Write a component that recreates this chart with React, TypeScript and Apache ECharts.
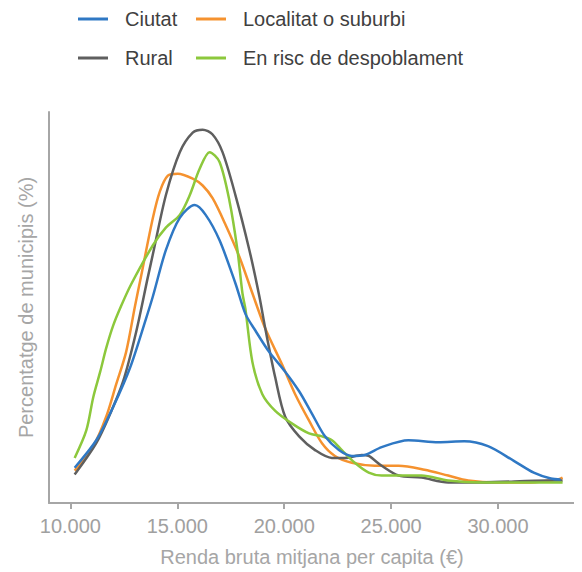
import React, { useEffect, useRef } from "react";
import * as echarts from "echarts";

const seriesNames = ["Ciutat", "Localitat o suburbi", "Rural", "En risc de despoblament"];
const colors = ["#2f78c4", "#f5922f", "#5f5f5f", "#8cc83c"];
const xTicks = [10000, 15000, 20000, 25000, 30000];

const ciutat: [number, number][] = [
  [10200, 0.8], [11210, 2.2], [12000, 3.9], [12790, 5.9], [13535, 8.4], [13860, 9.55],
  [14465, 11.9], [15116, 13.55], [15814, 14.2], [16326, 13.7], [16977, 12.4], [17721, 10.2],
  [18186, 8.65], [18651, 7.8], [19302, 6.7], [20046, 5.7], [20698, 4.7], [21302, 3.55],
  [21907, 2.4], [22558, 1.7], [23163, 1.4], [23767, 1.45], [24558, 1.85], [25810, 2.2],
  [27210, 2.1], [28420, 2.15], [29530, 1.9], [30740, 1.15], [31670, 0.55], [32470, 0.25],
  [32930, 0.2],
];
const localitat: [number, number][] = [
  [10200, 0.65], [11070, 1.9], [11674, 3.4], [12140, 5.05], [12605, 6.7], [13023, 9.05],
  [13302, 10.55], [13860, 13.55], [14186, 14.9], [14558, 15.7], [15023, 15.8], [15721, 15.55],
  [16186, 15.2], [16651, 14.55], [17256, 13.2], [17907, 11.55], [18512, 9.7], [19116, 7.9],
  [19907, 6.05], [20512, 4.55], [21163, 3.2], [21767, 2.05], [22372, 1.4], [23163, 1.05],
  [24232, 0.9], [25350, 0.9], [26560, 0.7], [27670, 0.4], [28600, 0.15], [30000, 0.05],
  [31530, 0.05], [32790, 0.2], [33020, 0.3],
];
const rural: [number, number][] = [
  [10200, 0.45], [11210, 2.05], [11860, 3.55], [12465, 5.2], [13070, 7.7], [13628, 10.55],
  [13860, 11.7], [14465, 14.7], [15116, 16.9], [15721, 17.9], [16186, 18.05], [16651, 17.8],
  [17116, 16.9], [17721, 14.7], [18372, 11.9], [18837, 9.55], [19116, 7.9], [19581, 5.4],
  [20046, 3.4], [20698, 2.4], [21442, 1.7], [22232, 1.3], [22837, 1.3], [23628, 1.45],
  [23953, 1.4], [24558, 0.9], [25350, 0.4], [26420, 0.3], [27670, 0.05], [29210, 0.05],
  [32330, 0.15], [33020, 0.15],
];
const risc: [number, number][] = [
  [10200, 1.3], [10744, 2.7], [11070, 4.4], [11395, 5.7], [11674, 6.9], [12000, 8.05],
  [12372, 9.05], [12837, 10.15], [13860, 12.15], [14465, 13.05], [15116, 13.7], [15581, 14.7],
  [16046, 16.05], [16512, 16.9], [16977, 16.4], [17442, 14.4], [17814, 11.9], [18047, 9.7],
  [18186, 8.9], [18512, 6.2], [18977, 4.55], [19581, 3.7], [20372, 3.05], [21163, 2.55],
  [21767, 2.4], [22232, 2.2], [22697, 1.7], [23302, 1.05], [23953, 0.55], [24558, 0.4],
  [25350, 0.4], [26420, 0.4], [27670, 0.15], [29210, 0.05], [33020, 0.05],
];

const allData = [ciutat, localitat, rural, risc];

export default function App() {
  const ref = useRef<HTMLDivElement>(null);
  useEffect(() => {
    if (!ref.current) return;
    const chart = echarts.init(ref.current, null, { renderer: "svg" });
    const font = "Liberation Sans, Arial, sans-serif";
    const legendCommon = {
      orient: "vertical" as const,
      top: 0,
      padding: 0,
      icon: "rect",
      itemWidth: 30,
      itemHeight: 3,
      itemGap: 17,
      textStyle: {
        fontFamily: font,
        fontSize: 20,
        color: "#404040",
        lineHeight: 22,
        padding: [0, 0, 0, 12],
      },
    };
    chart.setOption({
      animation: false,
      color: colors,
      legend: [
        { ...legendCommon, left: 70, data: [seriesNames[0], seriesNames[2]] },
        { ...legendCommon, left: 188, data: [seriesNames[1], seriesNames[3]] },
      ],
      grid: { left: 37, right: 7, top: 104, bottom: 62 },
      xAxis: {
        type: "value",
        min: 9000,
        max: 33600,
        name: "Renda bruta mitjana per capita (€)",
        nameLocation: "middle",
        nameGap: 44,
        nameTextStyle: { fontFamily: font, fontSize: 20, color: "#a6a6a6" },
        axisLine: { show: true, onZero: false, lineStyle: { color: "#a6a6a6", width: 2 } },
        axisTick: {
          show: true,
          length: 6,
          customValues: xTicks,
          lineStyle: { color: "#a6a6a6", width: 2 },
        },
        axisLabel: {
          customValues: xTicks,
          margin: 13,
          fontFamily: font,
          fontSize: 20,
          color: "#a0a0a0",
          formatter: (v: number) => (v / 1000).toFixed(3),
        },
        splitLine: { show: false },
      },
      yAxis: {
        type: "value",
        min: -1,
        max: 18.95,
        name: "Percentatge de municipis (%)",
        nameLocation: "middle",
        nameGap: 13,
        nameTextStyle: { fontFamily: font, fontSize: 20, color: "#a6a6a6" },
        axisLine: { show: true, onZero: false, lineStyle: { color: "#a6a6a6", width: 2 } },
        axisTick: { show: false },
        axisLabel: { show: false },
        splitLine: { show: false },
      },
      series: seriesNames.map((name, i) => ({
        name,
        type: "line",
        data: allData[i],
        smooth: 0.3,
        symbol: "none",
        lineStyle: { width: 2.5, color: colors[i] },
        z: i === 0 ? 5 : 3,
      })),
    });
    return () => chart.dispose();
  }, []);
  return <div ref={ref} style={{ width: 574, height: 564 }} />;
}
